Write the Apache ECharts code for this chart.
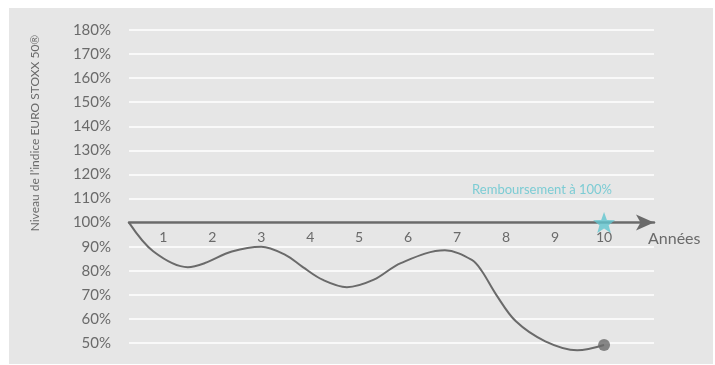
<!DOCTYPE html>
<html>
<head>
<meta charset="utf-8">
<script src="https://cdn.jsdelivr.net/npm/echarts@6/dist/echarts.min.js"></script>
<style>
    html, body { margin: 0; padding: 0; background: #fff; }
    #chart { width: 715px; height: 365px; }
</style>
</head>
<body>
<div id="chart"></div>
<script>
// niveaux de l'indice (en %)
const yearTicks = [1, 2, 3, 4, 5, 6, 7, 8, 9, 10]
const curveYears = [0.3, 0.8, 1.5, 1.85, 2.4, 3.0, 3.5, 3.85, 4.25, 4.75, 5.3, 5.85, 6.75, 7.3, 7.5, 7.8, 8.2, 8.8, 9.45, 10]
const curveLevels = [100, 88, 81.5, 83.2, 88, 90, 86.5, 81.5, 76.3, 73.2, 76.3, 83.2, 88.5, 84.5, 80, 70, 59, 50.7, 47, 49.2]
const levelTicks = [50, 60, 70, 80, 90, 100, 110, 120, 130, 140, 150, 160, 170, 180]
const barrier = 100
const refundYear = 10

const gray = '#6a6a6a'
const teal = '#62c6cf'
const font = 'Lato, "Open Sans", sans-serif'

const chart = echarts.init(document.getElementById('chart'))
const gridTop = 30
const gridBottom = 22
const plotHeight = 365 - gridTop - gridBottom
const yMin = levelTicks[0]
const yMax = levelTicks[levelTicks.length - 1]
// remonter l'axe des années jusqu'à 100%
const axisOffset = -(barrier - yMin) / (yMax - yMin) * plotHeight

const curve = curveYears.map((x, i) => [x, curveLevels[i]])
const last = curve[curve.length - 1]

chart.setOption({
    animation: false,
    graphic: [
        {
            type: 'rect',
            shape: { x: 9, y: 8, width: 704, height: 356 },
            style: { fill: '#e6e6e6' },
            z: -10
        },
        {
            type: 'text',
            x: 35,
            y: 133,
            rotation: Math.PI / 2,
            style: {
                text: 'Niveau de l\u2019indice EURO STOXX 50\u00ae',
                fill: gray,
                font: '12px ' + font,
                align: 'center',
                verticalAlign: 'middle'
            }
        }
    ],
    grid: { left: 129, right: 61, top: gridTop, bottom: gridBottom },
    xAxis: {
        type: 'value',
        min: curveYears[0],
        max: 11.02,
        offset: axisOffset,
        name: 'Années',
        nameLocation: 'end',
        nameGap: -6,
        nameTextStyle: {
            color: gray,
            fontFamily: font,
            fontSize: 16,
            align: 'left',
            verticalAlign: 'top',
            padding: [8, 0, 0, 0]
        },
        axisLine: {
            show: true,
            symbol: ['none', 'arrow'],
            symbolSize: [12, 18],
            lineStyle: { color: gray, width: 2.5 }
        },
        axisTick: { show: false },
        splitLine: { show: false },
        axisLabel: {
            customValues: yearTicks,
            color: gray,
            fontFamily: font,
            fontSize: 14,
            margin: 8
        }
    },
    yAxis: {
        type: 'value',
        min: yMin,
        max: yMax,
        interval: 10,
        axisLine: { show: false },
        axisTick: { show: false },
        axisLabel: {
            color: gray,
            fontFamily: font,
            fontSize: 15,
            margin: 18,
            formatter: '{value}%'
        },
        splitLine: { lineStyle: { color: '#ffffff', width: 1.5 } }
    },
    series: [
        {
            type: 'line',
            data: curve,
            smooth: 0.35,
            clip: false,
            showSymbol: false,
            lineStyle: { color: gray, width: 2 },
            z: 3
        },
        {
            type: 'scatter',
            data: [last],
            symbolSize: 12,
            clip: false,
            itemStyle: { color: gray },
            z: 4
        },
        {
            type: 'scatter',
            data: [[refundYear, barrier]],
            symbol: 'path://M12,0 L15.1,8.5 L24,8.8 L17,14.4 L19.4,23 L12,18 L4.6,23 L7,14.4 L0,8.8 L8.9,8.5 Z',
            symbolSize: [22, 21],
            itemStyle: { color: teal },
            label: {
                show: true,
                position: 'top',
                offset: [-62, -11],
                formatter: 'Remboursement à 100%',
                color: teal,
                fontFamily: font,
                fontSize: 13
            },
            z: 5
        }
    ]
})
</script>
</body>
</html>
